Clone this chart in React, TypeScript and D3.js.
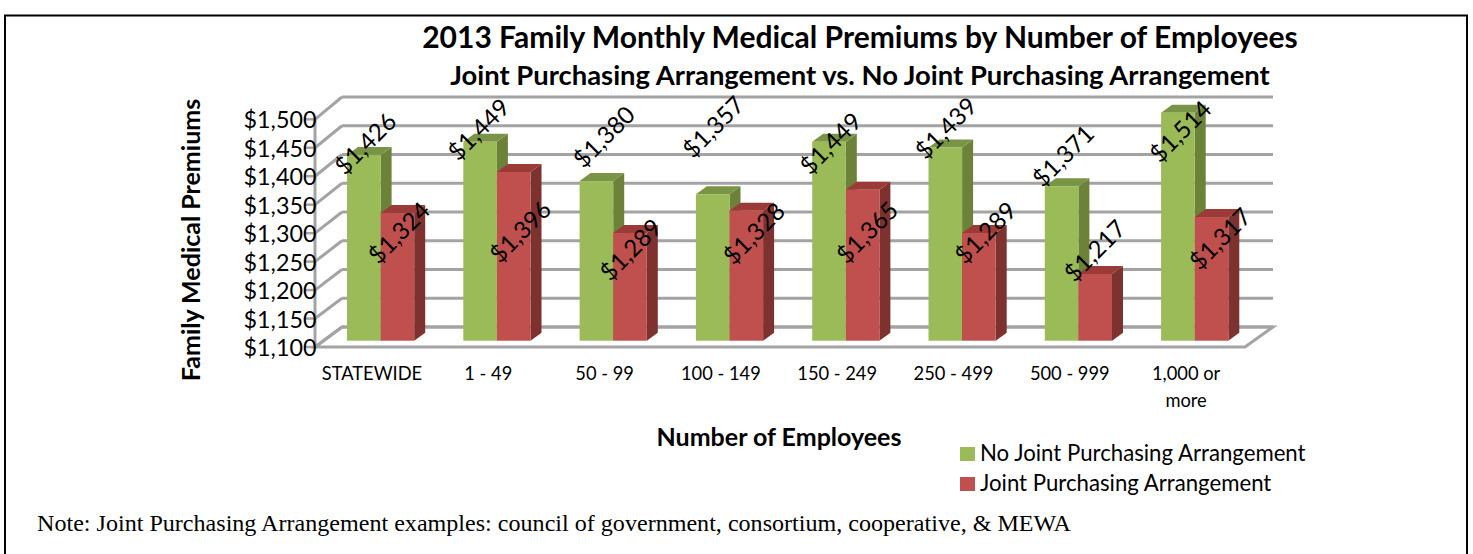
import React from "react";
import * as d3 from "d3";

const categories = ["STATEWIDE", "1 - 49", "50 - 99", "100 - 149", "150 - 249", "250 - 499", "500 - 999", "1,000 or|more"];
const noJoint = [1426, 1449, 1380, 1357, 1449, 1439, 1371, 1514];
const joint = [1324, 1396, 1289, 1328, 1365, 1289, 1217, 1317];
const ticks = [1100, 1150, 1200, 1250, 1300, 1350, 1400, 1450, 1500];
// Hand-placed data label nudges relative to each bar's top centre (the source chart's labels were moved by hand)
const greenNudge = [[1, -12], [-2, -13], [7, -45], [0, -68], [1, 1], [0, -20], [1, -31], [2, 18]];
const redNudge = [[1, 19], [6, 59], [0, 16], [7, 22], [4, 42], [6, -1], [-1, -24], [8, 21]];
const FONT = "Lato, Carlito, sans-serif";

const money = (v: number) => "$" + d3.format(",")(v);
const W = 1473, H = 554;

export default function App() {
  const yFront = d3.scaleLinear().domain([1100, 1500]).range([347, 119.3]);
  const yBack = d3.scaleLinear().domain([1100, 1500]).range([327, 97]);
  const yBar = d3.scaleLinear().domain([1100, 1500]).range([340.7, 112.7]).clamp(true);
  const x = d3.scaleLinear().domain([0, 8]).range([347, 347 + 116.3 * 8]);
  const bw = 33.6, dx = 11, dy = 8;
  const gridC = "#a3a3a3";

  const bar = (x0: number, v: number, front: string, top: string, side: string, key: string) => {
    const t = yBar(v), b = yBar(1100), x1 = x0 + bw;
    return (
      <g key={key}>
        <path d={`M${x1},${t}L${x1 + dx},${t - dy}V${b - dy}L${x1},${b}Z`} fill={side} />
        <path d={`M${x0},${t}L${x0 + dx},${t - dy}H${x1 + dx}L${x1},${t}Z`} fill={top} />
        <rect x={x0} y={t} width={bw} height={b - t} fill={front} />
      </g>
    );
  };

  return (
    <svg width={W} height={H} style={{ position: "absolute", left: 0, top: 0, background: "#fff" }}>
      <rect x={5} y={15.5} width={1462} height={560} fill="none" stroke="#000" strokeWidth={2} />
      <text x={860} y={48} textAnchor="middle" fontFamily={FONT} fontWeight={700} fontSize={30} fill="#000">2013 Family Monthly Medical Premiums by Number of Employees</text>
      <text x={860} y={85} textAnchor="middle" fontFamily={FONT} fontWeight={700} fontSize={27.4} fill="#000">Joint Purchasing Arrangement vs. No Joint Purchasing Arrangement</text>

      <path d={`M315,${yFront(1100)}H1245L1273,${yBack(1100)}H342Z`} fill="none" stroke={gridC} strokeWidth={3} />
      <line x1={315} x2={315} y1={yFront(1500)} y2={yFront(1100)} stroke={gridC} strokeWidth={3} />
      {ticks.map((t) => (
        <g key={t}>
          <line x1={305} x2={315} y1={yFront(t)} y2={yFront(t)} stroke={gridC} strokeWidth={2.5} />
          <line x1={315} x2={342} y1={yFront(t)} y2={yBack(t)} stroke={gridC} strokeWidth={3} />
          <line x1={342} x2={1273} y1={yBack(t)} y2={yBack(t)} stroke={gridC} strokeWidth={3} />
          <text x={280} y={yFront(t) + 9} textAnchor="middle" fontFamily={FONT} fontSize={23.3} fill="#000">{money(t)}</text>
        </g>
      ))}

      {categories.map((c, i) => {
        const x0 = x(i);
        return (
          <g key={c}>
            {bar(x0, noJoint[i], "#9bbb59", "#7a9445", "#6b8238", "g" + i)}
            {bar(x0 + bw, joint[i], "#c0504d", "#9a3b38", "#7d3230", "r" + i)}
            {c.split("|").map((s, j) => (
              <text key={s} x={x0 + 25} y={380 + j * 27} textAnchor="middle" fontFamily={FONT} fontSize={18.3} fill="#000">{s}</text>
            ))}
          </g>
        );
      })}

      {categories.map((c, i) => {
        const cg = x(i) + bw / 2;
        const cr = x(i) + bw * 1.5;
        return (
          <g key={c}>
            <text transform={`translate(${cg + greenNudge[i][0]},${yBar(noJoint[i]) + greenNudge[i][1]}) rotate(-45)`} textAnchor="middle" dominantBaseline="central" fontFamily={FONT} fontSize={24} fill="#000">{money(noJoint[i])}</text>
            <text transform={`translate(${cr + redNudge[i][0]},${yBar(joint[i]) + redNudge[i][1]}) rotate(-45)`} textAnchor="middle" dominantBaseline="central" fontFamily={FONT} fontSize={24} fill="#000">{money(joint[i])}</text>
          </g>
        );
      })}

      <text transform="translate(200,240) rotate(-90)" textAnchor="middle" fontFamily={FONT} fontWeight={700} fontSize={25} fill="#000">Family Medical Premiums</text>
      <text x={779} y={446} textAnchor="middle" fontFamily={FONT} fontWeight={700} fontSize={25} fill="#000">Number of Employees</text>

      <rect x={960} y={447} width={15} height={14} fill="#9bbb59" />
      <text x={980} y={461} fontFamily={FONT} fontSize={22.2} fill="#000">No Joint Purchasing Arrangement</text>
      <rect x={960} y={477} width={15} height={14} fill="#c0504d" />
      <text x={980} y={491} fontFamily={FONT} fontSize={22.2} fill="#000">Joint Purchasing Arrangement</text>

      <text x={37} y={531} fontFamily="'Liberation Serif', serif" fontSize={23} textLength={1034} lengthAdjust="spacingAndGlyphs" fill="#000">Note: Joint Purchasing Arrangement examples: council of government, consortium, cooperative, &amp; MEWA</text>
    </svg>
  );
}
